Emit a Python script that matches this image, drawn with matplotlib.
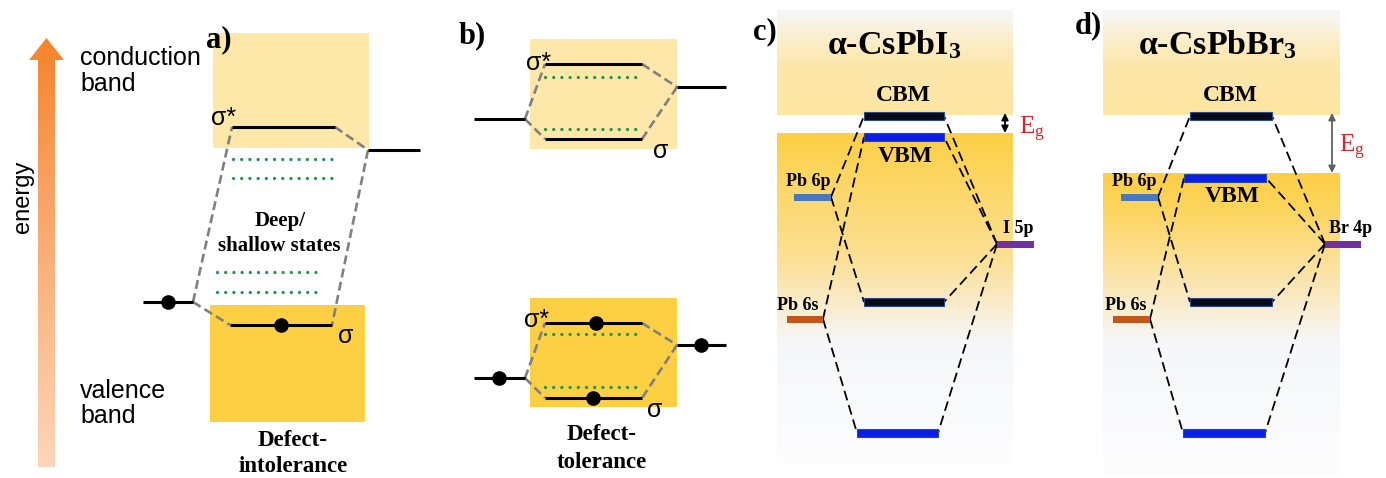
import numpy as np
import matplotlib
matplotlib.use('Agg')
import matplotlib.pyplot as plt
from matplotlib.patches import Rectangle, Polygon
from matplotlib.colors import to_rgb

plt.rcParams['mathtext.fontset'] = 'custom'
plt.rcParams['mathtext.rm'] = 'Liberation Serif'
plt.rcParams['mathtext.bf'] = 'Liberation Serif:bold'
plt.rcParams['mathtext.it'] = 'Liberation Serif:italic'

SERIF = 'Liberation Serif'
SANS = 'Liberation Sans'

# ---------------- data ----------------
# panel a: (x0, x1, energy-y) of levels
a_sigma_star = (232, 335, 127)
a_sigma = (230, 332, 325)
a_left_atom = (143, 193, 302)
a_right_atom = (368, 420, 150)
a_defect_y = [159, 178, 272, 292]
a_defect_x0 = [233, 233, 217, 217]
a_defect_x1 = [335, 335, 318, 318]
a_electron_x = [168, 281]
a_electron_y = [302, 325]

# panel b (upper = empty, lower = filled)
b_x_mo = (545, 642)
b_x_left = (474, 525)
b_x_right = (677, 726)
b_upper_levels = {'sigma_star': 64, 'sigma': 139, 'left': 119, 'right': 87}
b_upper_defect_y = [77, 129]
b_lower_levels = {'sigma_star': 323, 'sigma': 398, 'left': 378, 'right': 345}
b_lower_defect_y = [334, 387]
b_electron_x = [596, 593, 499, 701]
b_electron_y = [323, 398, 378, 345]

# panels c, d: molecular orbital levels (x0, x1, y)
mo_names = ['CBM', 'VBM', 'bond_p', 'bond_s']
c_mo_x0 = [864, 864, 864, 857]
c_mo_x1 = [944, 944, 944, 938]
c_mo_y = [116, 137, 302, 433]
d_mo_x0 = [1190, 1184, 1190, 1183]
d_mo_x1 = [1272, 1266, 1272, 1265]
d_mo_y = [116, 178, 302, 433]
mo_colors = ['#0a0a14', '#0a1ee6', '#0a0a14', '#0a1ee6']

atom_names_c = ['Pb 6p', 'Pb 6s', 'I 5p']
atom_names_d = ['Pb 6p', 'Pb 6s', 'Br 4p']
c_atom_x0 = [794, 787, 997]
c_atom_x1 = [831, 823, 1034]
c_atom_y = [197, 319, 244]
d_atom_x0 = [1121, 1113, 1325]
d_atom_x1 = [1158, 1150, 1361]
d_atom_y = [197, 319, 244]
atom_colors = ['#4a78c0', '#c4561a', '#7030a0']
c_atom_label_xy = [(808, 182), (798, 305), (1018, 228)]
d_atom_label_xy = [(1134, 182), (1126, 305), (1351, 228)]
# (atom index, mo index): left atoms join MO left ends, halide joins MO right ends
connections = [(0, 0), (0, 2), (1, 1), (1, 3), (2, 0), (2, 1), (2, 2), (2, 3)]

# ---------------- figure ----------------
W, H = 1386, 478
fig = plt.figure(figsize=(W / 100, H / 100), dpi=100)
ax = fig.add_axes([0, 0, 1, 1])
ax.set_xlim(0, W)
ax.set_ylim(H, 0)
ax.axis('off')

LIGHT = '#fde8a9'
DARK = '#fdd044'
GREEN = '#23964a'
GREY = '#808080'


def vgrad(y0, y1, stops, x0, x1, clip=None, z=0):
    ys = np.arange(y0, y1 + 1)
    sy = [s[0] for s in stops]
    cols = np.array([to_rgb(s[1]) for s in stops])
    img = np.stack([np.interp(ys, sy, cols[:, k]) for k in range(3)], axis=-1)[:, None, :]
    im = ax.imshow(img, extent=(x0, x1, y1, y0), aspect='auto', zorder=z,
                   interpolation='bilinear')
    if clip is not None:
        im.set_clip_path(clip)
    return im


def green_dots(x0, x1, y):
    ax.plot([x0, x1], [y, y], color=GREEN, lw=2.4, dashes=(0.01, 2.45),
            dash_capstyle='round', zorder=3)


# energy arrow with gradient
arrow_poly = Polygon([(38, 467), (38, 60), (29, 60), (46.5, 38), (64, 60), (55, 60), (55, 467)],
                     closed=True, facecolor='none', edgecolor='none')
ax.add_patch(arrow_poly)
vgrad(38, 467, [(38, '#f6842a'), (200, '#f9a466'), (467, '#fdd6b9')], 28, 65, clip=arrow_poly)
ax.text(23, 197, 'energy', rotation=90, ha='center', va='center', fontsize=17, family=SANS)
ax.text(80, 58, 'conduction', ha='left', va='center', fontsize=18, family=SANS)
ax.text(80, 84, 'band', ha='left', va='center', fontsize=18, family=SANS)
ax.text(80, 391, 'valence', ha='left', va='center', fontsize=18, family=SANS)
ax.text(80, 416, 'band', ha='left', va='center', fontsize=18, family=SANS)

# ---- panel a
ax.add_patch(Rectangle((213, 33), 369 - 213, 148 - 33, facecolor=LIGHT, edgecolor='none', zorder=1))
ax.add_patch(Rectangle((210, 305), 365 - 210, 422 - 305, facecolor=DARK, edgecolor='none', zorder=1))
dash_kw = dict(color=GREY, lw=1.9, dashes=(3.4, 1.7), zorder=2)
L, S, SS, R = a_left_atom, a_sigma, a_sigma_star, a_right_atom
ax.plot([L[1], SS[0]], [L[2], SS[2]], **dash_kw)
ax.plot([L[1], S[0]], [L[2], S[2]], **dash_kw)
ax.plot([SS[1], R[0]], [SS[2], R[2]], **dash_kw)
ax.plot([R[0], S[1]], [R[2], S[2]], **dash_kw)
for lv in (L, S, SS, R):
    ax.plot([lv[0], lv[1]], [lv[2], lv[2]], color='black', lw=2.2, solid_capstyle='butt', zorder=3)
for y, x0, x1 in zip(a_defect_y, a_defect_x0, a_defect_x1):
    green_dots(x0, x1, y)
ax.plot(a_electron_x, a_electron_y, 'o', color='black', ms=9.5, ls='none', zorder=4)
ax.text(219, 40, 'a)', ha='center', va='center', fontsize=22, family=SERIF, weight='bold')
ax.text(224, 125, 'σ*', ha='center', va='baseline', fontsize=18, family=SANS)
ax.text(346, 343, 'σ', ha='center', va='baseline', fontsize=18, family=SANS)
ax.text(280, 221, 'Deep/', ha='center', va='center', fontsize=15, family=SERIF, weight='bold')
ax.text(279, 246, 'shallow states', ha='center', va='center', fontsize=15, family=SERIF, weight='bold')
ax.text(293, 441, 'Defect-', ha='center', va='center', fontsize=16.5, family=SERIF, weight='bold')
ax.text(293, 467, 'intolerance', ha='center', va='center', fontsize=16.5, family=SERIF, weight='bold')

# ---- panel b
ax.add_patch(Rectangle((530, 39), 677 - 530, 149 - 39, facecolor=LIGHT, edgecolor='none', zorder=1))
ax.add_patch(Rectangle((530, 298), 677 - 530, 407 - 298, facecolor=DARK, edgecolor='none', zorder=1))
for lev, dys in ((b_upper_levels, b_upper_defect_y), (b_lower_levels, b_lower_defect_y)):
    ax.plot([b_x_left[1], b_x_mo[0]], [lev['left'], lev['sigma_star']], **dash_kw)
    ax.plot([b_x_left[1], b_x_mo[0]], [lev['left'], lev['sigma']], **dash_kw)
    ax.plot([b_x_mo[1], b_x_right[0]], [lev['sigma_star'], lev['right']], **dash_kw)
    ax.plot([b_x_right[0], b_x_mo[1]], [lev['right'], lev['sigma']], **dash_kw)
    for key, xs in (('sigma_star', b_x_mo), ('sigma', b_x_mo), ('left', b_x_left), ('right', b_x_right)):
        ax.plot(xs, [lev[key], lev[key]], color='black', lw=2.2, solid_capstyle='butt', zorder=3)
    for y in dys:
        green_dots(b_x_mo[0], b_x_mo[1], y)
ax.plot(b_electron_x, b_electron_y, 'o', color='black', ms=9.5, ls='none', zorder=4)
ax.text(472, 36, 'b)', ha='center', va='center', fontsize=22, family=SERIF, weight='bold')
ax.text(539, 70, 'σ*', ha='center', va='baseline', fontsize=18, family=SANS)
ax.text(661, 158, 'σ', ha='center', va='baseline', fontsize=18, family=SANS)
ax.text(537, 327, 'σ*', ha='center', va='baseline', fontsize=18, family=SANS)
ax.text(655, 417, 'σ', ha='center', va='baseline', fontsize=18, family=SANS)
ax.text(602, 434, 'Defect-', ha='center', va='center', fontsize=16.5, family=SERIF, weight='bold')
ax.text(602, 462, 'tolerance', ha='center', va='center', fontsize=16.5, family=SERIF, weight='bold')


# ---- panels c, d
def mo_panel(bx0, bx1, by0, by1, vbm_top, cbm_bottom, mo_x0, mo_x1, mo_y,
             atom_x0, atom_x1, atom_y, atom_names, atom_label_xy, title, title_x,
             eg_x, eg_label_xy, eg_color):
    top_stops = [(by0, '#f6f7fa'), (by0 + 25, '#fbefd0'), (by0 + 55, '#fde7aa'), (cbm_bottom, '#fde5a2')]
    vgrad(by0, cbm_bottom, top_stops, bx0, bx1)
    bot_stops = [(vbm_top, '#fdcf45'), (vbm_top + 35, '#fdd55c'), (260, '#fce096'), (300, '#faebc6'),
                 (325, '#f8f2e6'), (345, '#f6f7fa'), (by1, '#fdfdfe')]
    vgrad(vbm_top, by1, bot_stops, bx0, bx1)
    mo_dash = dict(color='black', lw=1.3, dashes=(5.5, 2.8), zorder=2)
    for ai, mi in connections:
        if ai < 2:
            ax.plot([atom_x1[ai], mo_x0[mi]], [atom_y[ai], mo_y[mi]], **mo_dash)
        else:
            ax.plot([atom_x0[ai], mo_x1[mi]], [atom_y[ai], mo_y[mi]], **mo_dash)
    for x0, x1, y, c in zip(mo_x0, mo_x1, mo_y, mo_colors):
        ax.add_patch(Rectangle((x0, y - 3.8), x1 - x0, 7.6, facecolor=c, edgecolor='#2a4a90',
                               lw=0.8, zorder=3))
    for x0, x1, y, c in zip(atom_x0, atom_x1, atom_y, atom_colors):
        ax.add_patch(Rectangle((x0, y - 3.5), x1 - x0, 7, facecolor=c, edgecolor='none', zorder=3))
    for name, (lx, ly) in zip(atom_names, atom_label_xy):
        ax.text(lx, ly, name, ha='center', va='center', fontsize=13, family=SERIF, weight='bold', zorder=5)
    cx = (mo_x0[0] + mo_x1[0]) / 2
    ax.text(cx - 1, 95, 'CBM', ha='center', va='center', fontsize=17, family=SERIF, weight='bold')
    ax.text(cx + 1, mo_y[1] + 19, 'VBM', ha='center', va='center', fontsize=17, family=SERIF, weight='bold')
    ax.text(title_x, 45, title, ha='center', va='center', fontsize=24.5, family=SERIF, weight='bold')
    ax.annotate('', xy=(eg_x, cbm_bottom - 2), xytext=(eg_x, vbm_top),
                arrowprops=dict(arrowstyle='<|-|>', color=eg_color, lw=1.3,
                                mutation_scale=10, shrinkA=0, shrinkB=0))
    ax.text(eg_label_xy[0], eg_label_xy[1], r'E$_\mathrm{g}$', ha='center', va='center',
            fontsize=18, family=SERIF, color='#e0202a')


mo_panel(777, 1013, 10, 463, 133, 115, c_mo_x0, c_mo_x1, c_mo_y,
         c_atom_x0, c_atom_x1, c_atom_y, atom_names_c, c_atom_label_xy,
         r'α-CsPbI$_\mathbf{3}$', 894, 1005, (1032, 129), 'black')
mo_panel(1103, 1340, 10, 476, 173, 115, d_mo_x0, d_mo_x1, d_mo_y,
         d_atom_x0, d_atom_x1, d_atom_y, atom_names_d, d_atom_label_xy,
         r'α-CsPbBr$_\mathbf{3}$', 1217, 1332, (1352, 147), '#606060')
ax.text(765, 32, 'c)', ha='center', va='center', fontsize=22, family=SERIF, weight='bold')
ax.text(1088, 26, 'd)', ha='center', va='center', fontsize=22, family=SERIF, weight='bold')

fig.savefig('out.png', dpi=100)
